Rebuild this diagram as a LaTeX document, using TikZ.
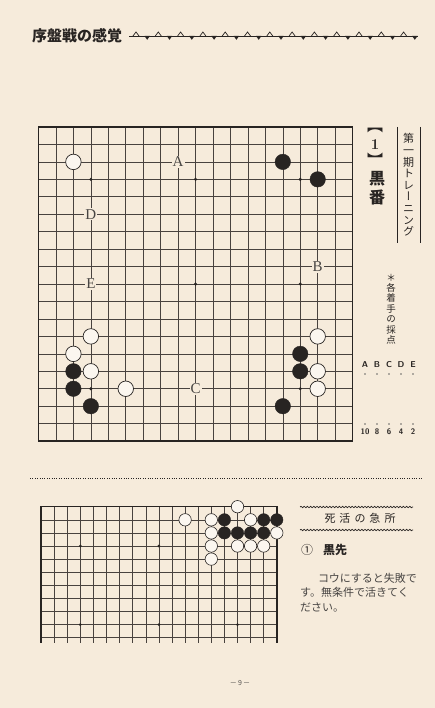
\documentclass[tikz,border=0pt]{standalone}
\usepackage{fontspec}
\newfontfamily\cjk{Noto Sans CJK JP}
\newfontfamily\cjkv[RawFeature=+vert]{Noto Sans CJK JP}
\newfontfamily\labfont{Liberation Serif}
\usetikzlibrary{decorations.pathmorphing}
\definecolor{paper}{RGB}{246,235,219}
\definecolor{ink}{RGB}{40,36,34}
\definecolor{gridc}{RGB}{72,66,62}
\tikzset{
  gridl/.style={draw=gridc, line width=0.6pt},
  bord/.style={draw=ink, line width=1.6pt},
  wst/.style={circle, draw=ink, line width=0.7pt, fill=white!55!paper, minimum size=15.5pt, inner sep=0pt},
  bst/.style={circle, draw=ink, fill=ink, minimum size=15.5pt, inner sep=0pt},
  swst/.style={wst, line width=0.6pt, minimum size=12.4pt},
  sbst/.style={bst, minimum size=12.4pt},
  stardot/.style={circle, fill=ink, minimum size=3.4pt, inner sep=0pt},
  lab/.style={fill=paper, inner sep=1pt, text=ink!85, font=\labfont\fontsize{15}{15}\selectfont},
  leader/.style={circle, fill=ink!70, minimum size=1.6pt, inner sep=0pt},
}
\begin{document}
\begin{tikzpicture}[x=1pt,y=-1pt]
\useasboundingbox (0,0) rectangle (435,708);
\fill[paper] (0,0) rectangle (435,708);

% ---------- header ----------
\node[anchor=west, inner sep=0pt, text=ink, font=\cjk\bfseries\fontsize{15}{15}\selectfont] (title) at (32,36) {序盤戦の感覚};
\draw[ink, line width=0.5pt] (129,36) -- (418,36);
\foreach \k in {0,...,12}{
  \draw[ink, line width=0.7pt] ({133+22.3*\k},36) -- ({136+22.3*\k},32) -- ({139+22.3*\k},36);
  \fill[ink] ({144.5+22.3*\k},36) -- ({147.2+22.3*\k},39.8) -- ({149.9+22.3*\k},36) -- cycle;
}

% ---------- main board ----------
\begin{scope}[shift={(38.5,127)}, x=17.45pt, y=-17.45pt]
  \foreach \i in {0,...,18}{
    \draw[gridl] (\i,0) -- (\i,18);
    \draw[gridl] (0,\i) -- (18,\i);
  }
  \draw[bord] (0,0) rectangle (18,18);
  \foreach \c/\r in {3/3,9/3,15/3,3/9,9/9,15/9,3/15,9/15,15/15}
    \node[stardot] (s\c-\r) at (\c,\r) {};
  \node[lab] (A) at (8,2) {A};
  \node[lab] (B) at (16,8) {B};
  \node[lab] (C) at (9,15) {C};
  \node[lab] (D) at (3,5) {D};
  \node[lab] (E) at (3,9) {E};
  \foreach \c/\r in {2/2,3/12,2/13,3/14,5/15,16/12,16/14,16/15}
    \node[wst] (w\c-\r) at (\c,\r) {};
  \foreach \c/\r in {14/2,16/3,2/14,2/15,3/16,15/13,15/14,14/16}
    \node[bst] (b\c-\r) at (\c,\r) {};
\end{scope}

% ---------- side texts ----------
\draw[ink, line width=0.6pt] (397,127) -- (397,243);
\draw[ink, line width=0.6pt] (420,127) -- (420,243);
\node[inner sep=0pt, align=center, text=ink, font=\cjkv\fontsize{11}{11.6}\selectfont] (t1) at (408.5,185) {第\\一\\期\\ト\\レ\\ー\\ニ\\ン\\グ};
\node[inner sep=0pt, text=ink, font=\cjk\fontsize{16}{16}\selectfont] (t2a) at (375,130) {︻};
\node[inner sep=0pt, text=ink, font=\bfseries\fontsize{15}{15}\selectfont] (t2b) at (375,145) {1};
\node[inner sep=0pt, text=ink, font=\cjk\fontsize{16}{16}\selectfont] (t2c) at (375,160) {︼};
\node[inner sep=0pt, align=center, text=ink, font=\cjk\bfseries\fontsize{16}{19}\selectfont] (t3) at (377,188) {黒\\番};
\node[inner sep=0pt, align=center, text=ink, font=\cjkv\fontsize{9.5}{10.4}\selectfont] (t4) at (391,309) {＊\\各\\着\\手\\の\\採\\点};
\foreach \L [count=\k from 0] in {A,B,C,D,E}
  \node[inner sep=0pt, text=ink, font=\sffamily\bfseries\fontsize{8.5}{8.5}\selectfont] (L\L) at ({365+12*\k},365) {\L};
\foreach \N [count=\k from 0] in {10,8,6,4,2}
  \node[inner sep=0pt, text=ink, font=\sffamily\bfseries\fontsize{8}{8}\selectfont] (N\k) at ({365+12*\k},432) {\N};
\foreach \k in {0,...,4}{
  \node[leader] (da\k) at ({365+12*\k},374) {};
  \node[leader] (db\k) at ({365+12*\k},424) {};
}

% ---------- separator ----------
\draw[ink, line width=0.8pt, dash pattern=on 0.8pt off 1.6pt] (30,478) -- (422,478);

% ---------- lower board ----------
\begin{scope}[shift={(41,506.7)}, x=13.1pt, y=-13.1pt]
  \foreach \i in {0,...,18} \draw[gridl] (\i,0) -- (\i,10.4);
  \foreach \j in {1,...,10} \draw[gridl] (0,\j) -- (18,\j);
  \draw[bord, line width=1.4pt] (0,10.4) -- (0,0) -- (18,0) -- (18,10.4);
  \foreach \c/\r in {3/3,9/3,3/9,9/9,15/9}
    \node[stardot, minimum size=3pt] (t\c-\r) at (\c,\r) {};
  \foreach \c/\r in {15/0,11/1,13/1,16/1,13/2,18/2,13/3,15/3,16/3,17/3,13/4}
    \node[swst] (lw\c-\r) at (\c,\r) {};
  \foreach \c/\r in {14/1,17/1,18/1,14/2,15/2,16/2,17/2}
    \node[sbst] (lb\c-\r) at (\c,\r) {};
\end{scope}

% ---------- lower text ----------
\draw[ink, line width=0.7pt, decorate, decoration={snake, segment length=3.2pt, amplitude=0.7pt}] (300,507) -- (413,507);
\draw[ink, line width=0.7pt, decorate, decoration={snake, segment length=3.2pt, amplitude=0.7pt}] (300,530) -- (413,530);
\node[inner sep=0pt, text=ink, font=\cjk\fontsize{11}{11}\selectfont] (h) at (360,518) {死\hspace{4pt}活\hspace{4pt}の\hspace{4pt}急\hspace{4pt}所};
\node[anchor=west, inner sep=0pt, text=ink, font=\cjk\fontsize{12}{12}\selectfont] (n1) at (301,550) {①};
\node[anchor=west, inner sep=0pt, text=ink, font=\cjk\bfseries\fontsize{12}{12}\selectfont] (n2) at (323,550) {黒先};
\node[anchor=west, inner sep=0pt, text=ink!85, font=\cjk\fontsize{11}{11}\selectfont] (b1) at (318,578) {コウにすると失敗で};
\node[anchor=west, inner sep=0pt, text=ink!85, font=\cjk\fontsize{11}{11}\selectfont] (b2) at (300,592) {す。無条件で活きてく};
\node[anchor=west, inner sep=0pt, text=ink!85, font=\cjk\fontsize{11}{11}\selectfont] (b3) at (300,607) {ださい。};

% ---------- page number ----------
\node[inner sep=0pt, text=ink!80, font=\cjk\fontsize{7}{7}\selectfont] (pg) at (240,683) {－\,9\,－};
\end{tikzpicture}
\end{document}
